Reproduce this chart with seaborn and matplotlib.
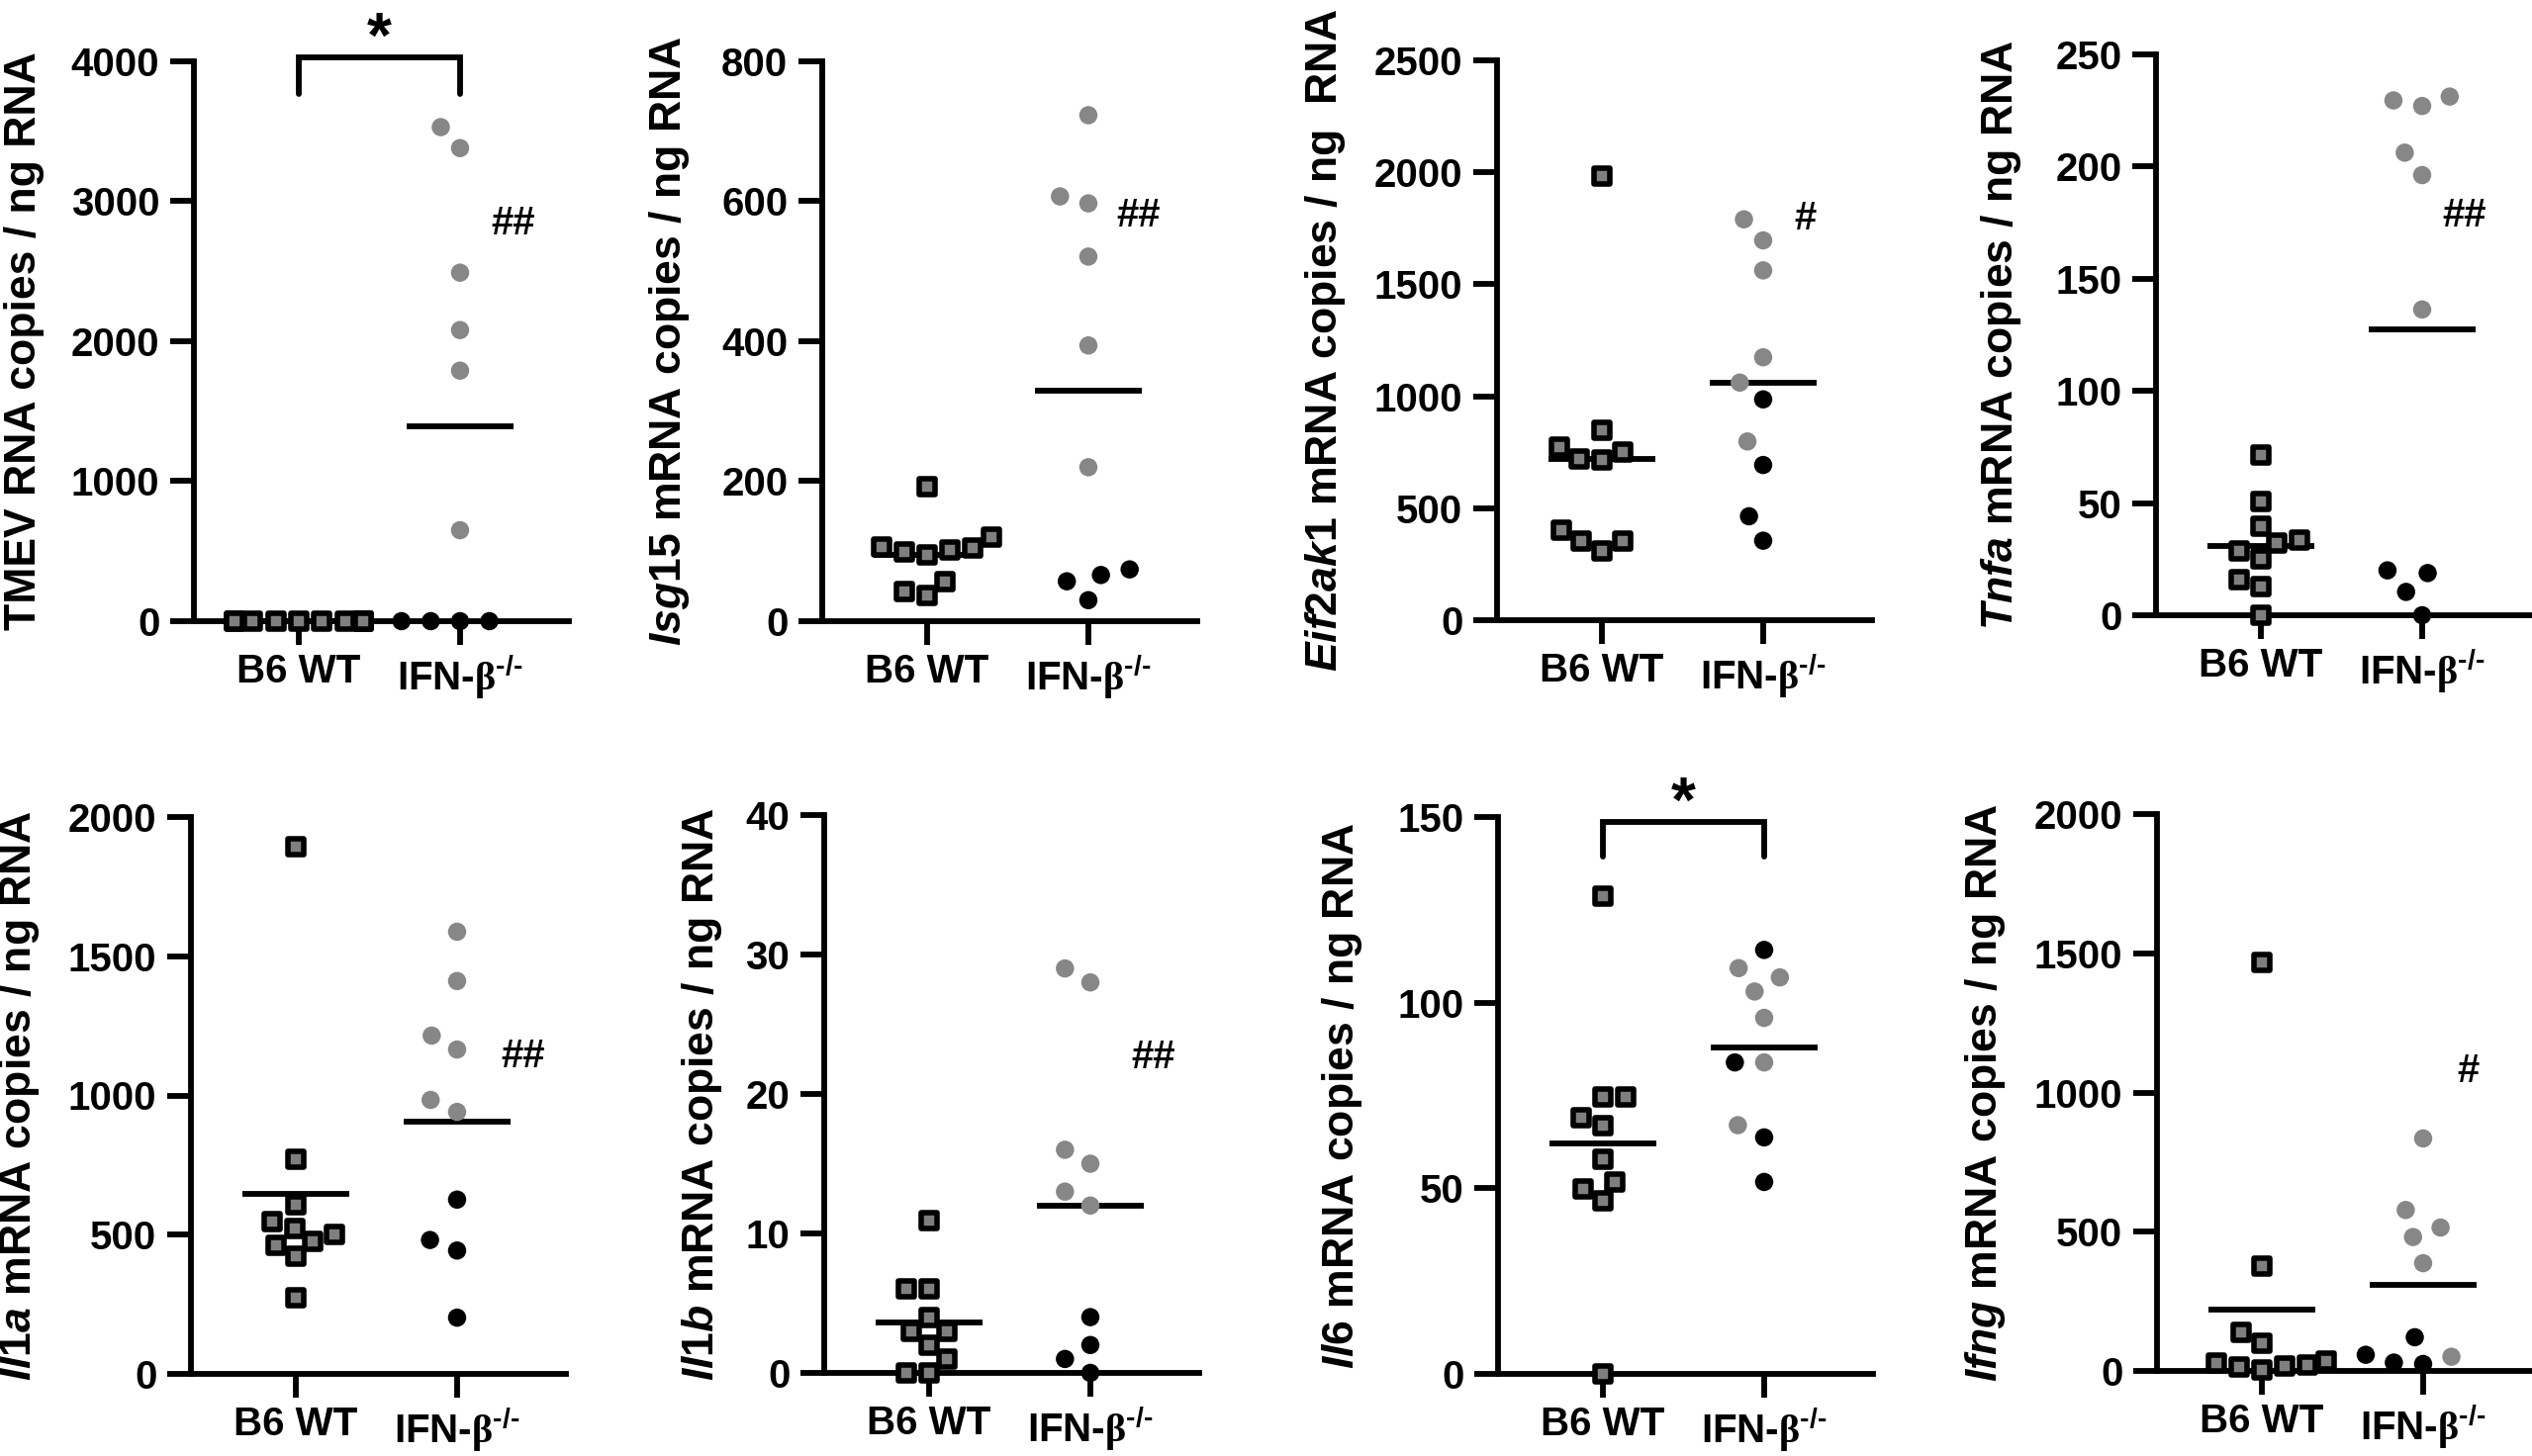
import numpy as np
import pandas as pd
import matplotlib
matplotlib.use("Agg")
import matplotlib.pyplot as plt
import seaborn as sns

# ---------------- data ----------------
groups = ["B6 WT", r"IFN-$\mathsf{β}^{\text{-/-}}$"]

tmev_wt = [0, 0, 0, 0, 0, 0, 0, 0, 0, 0]
tmev_ko_gray = [3530, 3380, 2490, 2080, 1790, 650]
tmev_ko_black = [0, 0, 0, 0]

isg15_wt = [192, 104, 120, 94, 106, 99, 102, 37, 57, 42]
isg15_ko_gray = [723, 607, 597, 521, 394, 220]
isg15_ko_black = [74, 66, 57, 30]

eif2ak1_wt = [1984, 714, 752, 846, 773, 721, 401, 309, 355, 355]
eif2ak1_ko_gray = [1790, 1696, 1562, 1174, 1061, 798]
eif2ak1_ko_black = [986, 693, 464, 355]

tnfa_wt = [71.6, 50.7, 39.9, 32.3, 33.6, 28.8, 25.2, 15.9, 12.7, 0]
tnfa_ko_gray = [229.5, 227, 231.2, 206.2, 196.2, 136.3]
tnfa_ko_black = [18.8, 20, 10.4, 0]

il1a_wt = [1892, 772, 606, 548, 476, 501, 423, 523, 461, 274]
il1a_ko_gray = [1588, 1411, 1215, 1165, 984, 941]
il1a_ko_black = [626, 481, 443, 202]

il1b_wt = [10.9, 6.0, 6.0, 4.0, 3.0, 3.0, 2.0, 1.0, 0, 0]
il1b_ko_gray = [29, 28, 16, 15, 13, 12]
il1b_ko_black = [4, 2, 1, 0]

il6_wt = [128.8, 74.7, 74.7, 69.1, 67.0, 57.9, 49.8, 51.7, 46.7, 0]
il6_ko_gray = [109.3, 106.8, 103.0, 95.9, 83.9, 67.0]
il6_ko_black = [114.2, 83.9, 63.7, 51.7]

ifng_wt = [1466, 378, 138, 101, 35, 13, 18, 30, 2, 22]
ifng_ko_gray = [835, 578, 481, 515, 387, 51]
ifng_ko_black = [121, 58, 30, 25]

y_labels = [
    "TMEV RNA copies / ng RNA",
    r"$\mathit{Isg15}$ mRNA copies / ng RNA",
    r"$\mathit{Eif2ak1}$ mRNA copies / ng  RNA",
    r"$\mathit{Tnfa}$ mRNA copies / ng RNA",
    r"$\mathit{Il1a}$ mRNA copies / ng RNA",
    r"$\mathit{Il1b}$ mRNA copies / ng RNA",
    r"$\mathit{Il6}$ mRNA copies / ng RNA",
    r"$\mathit{Ifng}$ mRNA copies / ng RNA",
]
y_max = [4000, 800, 2500, 250, 2000, 40, 150, 2000]
y_step = [1000, 200, 500, 50, 500, 10, 50, 500]
hash_marks = ["##", "##", "#", "##", "##", "##", None, "#"]
star_marks = ["*", None, None, None, None, None, "*", None]

series = [
    (tmev_wt, tmev_ko_gray, tmev_ko_black),
    (isg15_wt, isg15_ko_gray, isg15_ko_black),
    (eif2ak1_wt, eif2ak1_ko_gray, eif2ak1_ko_black),
    (tnfa_wt, tnfa_ko_gray, tnfa_ko_black),
    (il1a_wt, il1a_ko_gray, il1a_ko_black),
    (il1b_wt, il1b_ko_gray, il1b_ko_black),
    (il6_wt, il6_ko_gray, il6_ko_black),
    (ifng_wt, ifng_ko_gray, ifng_ko_black),
]

# ---------------- layout / style ----------------
W, H = 2559, 1472
AX_W = 379
# (left px, top px, bottom px, label x in axes frac, hash (x, frac of ymax))
layout = [
    (196, 62, 628, -0.398, (1.33, 0.711)),
    (831, 62, 628, -0.347, (1.31, 0.724)),
    (1513, 61, 627, -0.398, (1.26, 0.718)),
    (2179, 55, 622, -0.354, (1.26, 0.712)),
    (193, 826, 1389, -0.398, (1.41, 0.570)),
    (833, 824, 1388, -0.266, (1.39, 0.565)),
    (1514, 826, 1389, -0.357, (None, None)),
    (2180, 823, 1386, -0.398, (1.28, 0.538)),
]
# bracket (top frac, leg frac) for panels with a significance star
brackets = {0: (1.007, 0.942), 6: (0.992, 0.929)}

sns.set_style("ticks")
plt.rcParams["font.family"] = ["Liberation Sans", "DejaVu Sans"]
plt.rcParams["font.weight"] = "bold"
plt.rcParams["axes.labelweight"] = "bold"
plt.rcParams["mathtext.fontset"] = "custom"
plt.rcParams["mathtext.rm"] = "Liberation Sans:bold"
plt.rcParams["mathtext.it"] = "Liberation Sans:italic:bold"
plt.rcParams["mathtext.bf"] = "Liberation Sans:bold"
plt.rcParams["mathtext.sf"] = "Liberation Serif"
for k in ["text.color", "axes.labelcolor", "xtick.color", "ytick.color", "axes.edgecolor"]:
    plt.rcParams[k] = "black"

GRAY_SQ = "#7f7f7f"
GRAY_DOT = "#878787"
LW = 4.2

fig = plt.figure(figsize=(W / 100, H / 100), dpi=100)
fig.patch.set_facecolor("white")

for i, (wt, kg, kb) in enumerate(series):
    left, top, bottom, labx, (hx, hy) = layout[i]
    ax = fig.add_axes([left / W, 1 - bottom / H, AX_W / W, (bottom - top) / H])

    df_wt = pd.DataFrame({"group": groups[0], "value": wt})
    df_ko = pd.DataFrame({
        "group": groups[1],
        "value": list(kg) + list(kb),
        "tone": ["gray"] * len(kg) + ["black"] * len(kb),
    })

    sns.swarmplot(data=df_wt, x="group", y="value", order=groups, ax=ax,
                  color=GRAY_SQ, edgecolor="black", linewidth=4.0, size=12.0,
                  marker="s", clip_on=False, zorder=3, warn_thresh=1)
    sns.swarmplot(data=df_ko, x="group", y="value", hue="tone", order=groups,
                  palette={"gray": GRAY_DOT, "black": "black"}, ax=ax,
                  edgecolor="none", linewidth=7.0, size=13.3,
                  marker="o", clip_on=False, zorder=3,
                  legend=False, warn_thresh=1)

    # mean lines
    means = [df_wt["value"].mean(), df_ko["value"].mean()]
    for j, m in enumerate(means):
        ax.hlines(m, j - 0.33, j + 0.33, color="black", lw=LW, zorder=2.5)

    ym = y_max[i]
    ax.set_xlim(-0.65, 1.675)
    ax.set_ylim(0, ym)
    ax.set_yticks(np.arange(0, ym + y_step[i] / 2, y_step[i]))
    ax.set_xticks([0, 1])
    ax.set_xticklabels(groups)
    ax.set_xlabel("")
    ax.set_ylabel(y_labels[i], fontsize=32, fontweight="bold")
    ax.yaxis.set_label_coords(labx, 0.5)

    sns.despine(ax=ax)
    for s in ["left", "bottom"]:
        ax.spines[s].set_linewidth(LW)
        ax.spines[s].set_color("black")
    ax.tick_params(axis="y", length=17, width=LW, labelsize=29, pad=8, direction="out")
    ax.tick_params(axis="x", length=17, width=LW, labelsize=29, pad=6, direction="out")
    for t in ax.get_xticklabels() + ax.get_yticklabels():
        t.set_fontweight("bold")

    if hash_marks[i]:
        ax.text(hx, hy * ym, hash_marks[i], ha="center", va="center",
                fontsize=29, fontweight="bold")

    if star_marks[i]:
        bt, bl = brackets[i]
        ax.plot([0, 0, 1, 1], [bl * ym, bt * ym, bt * ym, bl * ym], color="black",
                lw=LW, clip_on=False, solid_joinstyle="miter")
        ax.text(0.5, bt * ym, star_marks[i], ha="center", va="baseline",
                fontsize=46, fontweight="bold", clip_on=False)

fig.savefig("out.png", dpi=100, facecolor="white")
